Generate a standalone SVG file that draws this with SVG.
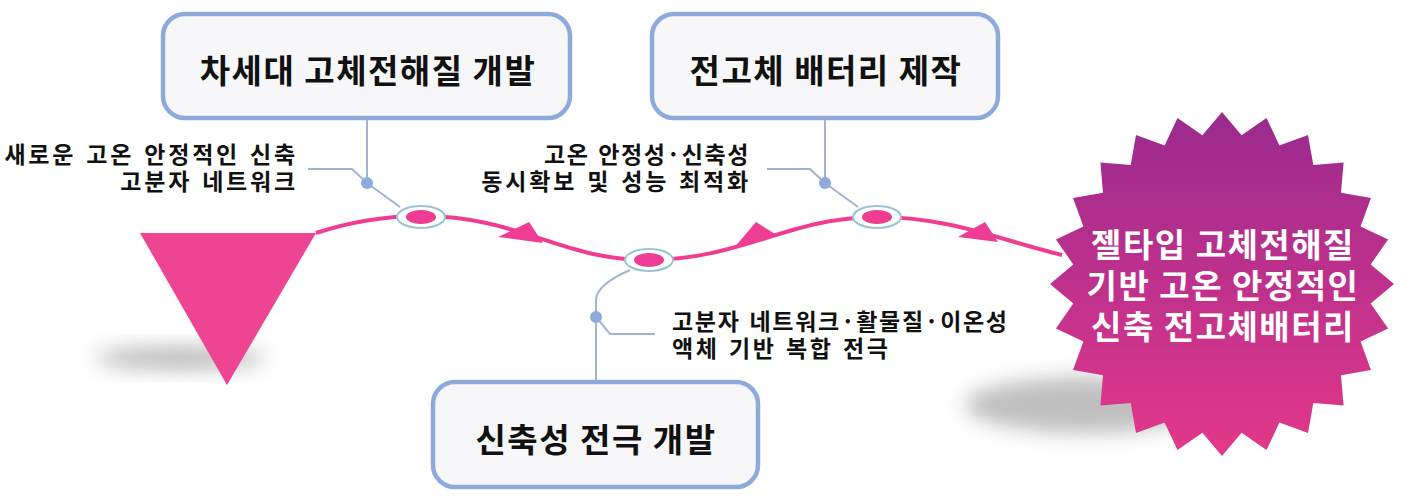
<svg xmlns="http://www.w3.org/2000/svg" width="1403" height="500" viewBox="0 0 1403 500">
<defs>
<style>
.box{fill:#f7f7f9;stroke:#8eaadb;stroke-width:4.5}
.bt{font-family:"Noto Sans CJK KR","Noto Sans",sans-serif;font-weight:700;font-size:33px;letter-spacing:1.5px;fill:#111;text-anchor:middle}
.lbl{font-family:"Noto Sans CJK KR","Noto Sans",sans-serif;font-weight:700;font-size:23px;letter-spacing:2.8px;word-spacing:2px;fill:#111}
.tight{letter-spacing:1.6px}
.st{font-family:"Noto Sans CJK KR","Noto Sans",sans-serif;font-weight:700;font-size:33px;letter-spacing:1.5px;fill:#fff;text-anchor:middle}
.lead{fill:none;stroke:#a3b3d3;stroke-width:2}
.dot{fill:#8eaadb}
.ring{fill:#fff;stroke:#9cc3d4;stroke-width:2}
.core{fill:#ee3d92}
.arr{fill:#ee3d92}
</style>
<linearGradient id="sg" x1="0" y1="0" x2="0" y2="1">
<stop offset="0" stop-color="#9a2a8e"/>
<stop offset="1" stop-color="#e3388a"/>
</linearGradient>
<filter id="blur" x="-50%" y="-50%" width="200%" height="200%"><feGaussianBlur stdDeviation="10"/></filter>
</defs>
<rect width="1403" height="500" fill="#fff"/>
<g id="shadows">
<ellipse cx="180" cy="358" rx="85" ry="12" fill="#bdbdbd" filter="url(#blur)"/>
<ellipse cx="1085" cy="405" rx="120" ry="28" fill="#bfbfbf" filter="url(#blur)"/>
</g>
<g id="start">
<polygon points="140,233 316,233 227,385" fill="#ee4593"/>
</g>
<g id="connectors">
<path d="M316,233 C350,222 385,216 421,216 C520,216 560,260 648,260 C740,260 790,217 877,217 C950,217 1000,240 1062,255" fill="none" stroke="#ee3d92" stroke-width="4"/>
<polygon class="arr" points="498,237 529,222 543,243"/>
<polygon class="arr" points="733,249 756,222 775,234"/>
<polygon class="arr" points="958,237 985,222 998,242"/>
<path class="lead" d="M367,120 V183 L400,207"/>
<path class="lead" d="M308,169 H352 L367,183"/>
<path class="lead" d="M825,120 V183 L858,207"/>
<path class="lead" d="M767,169 H810 L825,183"/>
<path class="lead" d="M630,270 Q596,285 596,300 V382"/>
<path class="lead" d="M596,317 L610,334 H655"/>
<circle class="dot" cx="367" cy="183" r="6"/>
<circle class="dot" cx="825" cy="183" r="6"/>
<circle class="dot" cx="596" cy="317" r="6"/>
</g>
<g id="node1-dot"><ellipse class="ring" cx="421" cy="217" rx="24" ry="11"/><ellipse class="core" cx="421" cy="217" rx="15" ry="7"/></g>
<g id="node2-dot"><ellipse class="ring" cx="649" cy="260" rx="24" ry="11"/><ellipse class="core" cx="649" cy="260" rx="15" ry="7"/></g>
<g id="node3-dot"><ellipse class="ring" cx="877" cy="217" rx="24" ry="11"/><ellipse class="core" cx="877" cy="217" rx="15" ry="7"/></g>
<g id="box1">
<rect class="box" x="163" y="14" width="407" height="104" rx="22"/>
<text class="bt" x="368" y="83">차세대 고체전해질 개발</text>
</g>
<g id="box2">
<rect class="box" x="652" y="14" width="346" height="104" rx="22"/>
<text class="bt" x="826" y="83">전고체 배터리 제작</text>
</g>
<g id="box3">
<rect class="box" x="433" y="382" width="325" height="105" rx="22"/>
<text class="bt" x="596" y="452">신축성 전극 개발</text>
</g>
<g id="label1">
<text class="lbl" text-anchor="end"><tspan x="298" y="163">새로운 고온 안정적인 신축</tspan><tspan x="298" y="190">고분자 네트워크</tspan></text>
</g>
<g id="label2">
<text class="lbl" text-anchor="end"><tspan class="tight" x="750" y="163">고온 안정성·신축성</tspan><tspan x="751" y="190">동시확보 및 성능 최적화</tspan></text>
</g>
<g id="label3">
<text class="lbl"><tspan x="672" y="330" style="letter-spacing:1.7px">고분자 네트워크·활물질·이온성</tspan><tspan x="672" y="357" style="letter-spacing:2.5px">액체 기반 복합 전극</tspan></text>
</g>
<g id="goal">
<polygon fill="url(#sg)" points="1222,112 1241.6,135.3 1266.5,117.9 1279.4,145.4 1308,135 1313.3,165 1343.6,162.4 1341,192.7 1371,198 1360.6,226.6 1388.1,239.5 1370.7,264.4 1394,284 1370.7,303.6 1388.1,328.5 1360.6,341.4 1371,370 1341,375.3 1343.6,405.6 1313.3,403 1308,433 1279.4,422.6 1266.5,450.1 1241.6,432.7 1222,456 1202.4,432.7 1177.5,450.1 1164.6,422.6 1136,433 1130.7,403 1100.4,405.6 1103,375.3 1073,370 1083.4,341.4 1055.9,328.5 1073.3,303.6 1050,284 1073.3,264.4 1055.9,239.5 1083.4,226.6 1073,198 1103,192.7 1100.4,162.4 1130.7,165 1136,135 1164.6,145.4 1177.5,117.9 1202.4,135.3"/>
<text class="st"><tspan x="1223" y="257">젤타입 고체전해질</tspan><tspan x="1223" y="298">기반 고온 안정적인</tspan><tspan x="1223" y="339">신축 전고체배터리</tspan></text>
</g>
</svg>
